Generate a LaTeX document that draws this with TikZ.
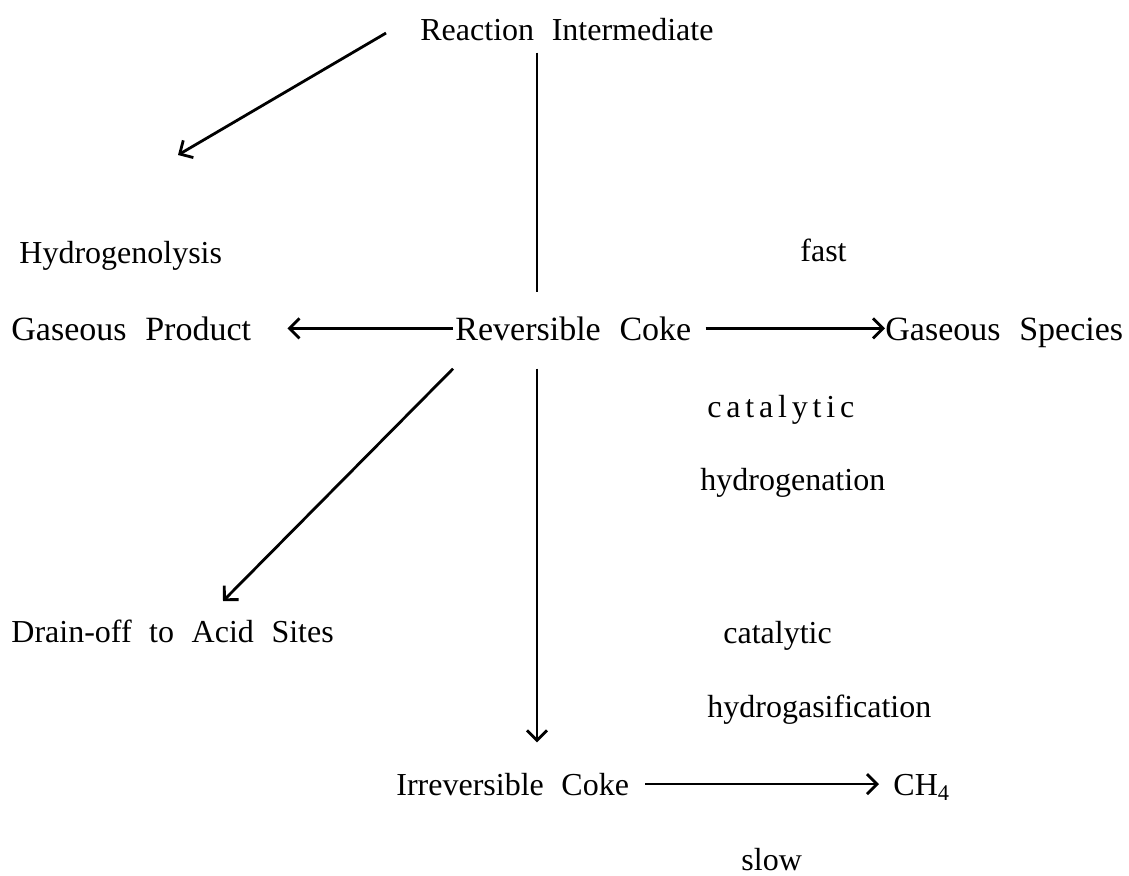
\documentclass[tikz,border=0pt]{standalone}
\usepackage{fontspec}
\setmainfont{Liberation Serif}
\usetikzlibrary{arrows.meta}
\newcommand\widespace{\spaceskip 0.55em\relax}
\begin{document}
\begin{tikzpicture}[x=0.5pt,y=-0.5pt,
		species/.style={anchor=base west, inner sep=0pt, font=\fontsize{16}{19}\selectfont\widespace},
		big/.style={font=\fontsize{17}{20}\selectfont\widespace},
		rate/.style={species},
		line/.style={line width=1.4pt},
		arr/.style={line width=1.4pt, -{Straight Barb[length=5pt,width=10pt,line width=1.4pt]}}
		]
	\useasboundingbox (0,0) rectangle (1129,875);
	% species
	\node [species] (ri) at (420,40) {Reaction Intermediate};
	\node [species] (hy) at (19,263) {Hydrogenolysis};
	\node [species,big] (gp) at (11,340) {Gaseous Product};
	\node [species,big] (rc) at (455,340) {Reversible Coke};
	\node [species,big] (gs) at (885,340) {Gaseous Species};
	\node [species] (do) at (11,642) {Drain-off to Acid Sites};
	\node [species] (ic) at (396,795) {Irreversible Coke};
	\node [species] (ch) at (893,795) {CH\textsubscript{4}};
	% rates and routes
	\node [rate] (fast) at (800,261) {fast};
	\node [rate] (cat1) at (707,417) {\addfontfeature{LetterSpace=15}catalytic};
	\node [rate] (hydn) at (700,490) {hydrogenation};
	\node [rate] (cat2) at (723,643) {catalytic};
	\node [rate] (hgas) at (707,717) {hydrogasification};
	\node [rate] (slow) at (741,870) {slow};
	% connectors
	\coordinate (vx) at (537,0);
	\coordinate (h1) at (178,155);
	\draw [arr] ([shift={(-34,4)}]ri.west) -- (h1);
	\draw [line] ([yshift=-6pt]ri.south -| vx) -- ([yshift=12pt]rc.north -| vx);
	\draw [arr, shorten <=1pt, shorten >=18pt] (rc.west) -- (rc.west -| gp.east);
	\draw [arr, shorten <=7pt] (rc.east) -- (rc.east -| gs.west);
	\draw [arr] ([shift={(-2,28)}]rc.south west) -- ([shift={(212,-18)}]do.north west);
	\draw [arr] ([yshift=-14pt]rc.south -| vx) -- ([yshift=15pt]ic.north -| vx);
	\draw [arr, shorten <=8pt, shorten >=7pt] (ic.east) -- (ic.east -| ch.west);
\end{tikzpicture}
\end{document}
